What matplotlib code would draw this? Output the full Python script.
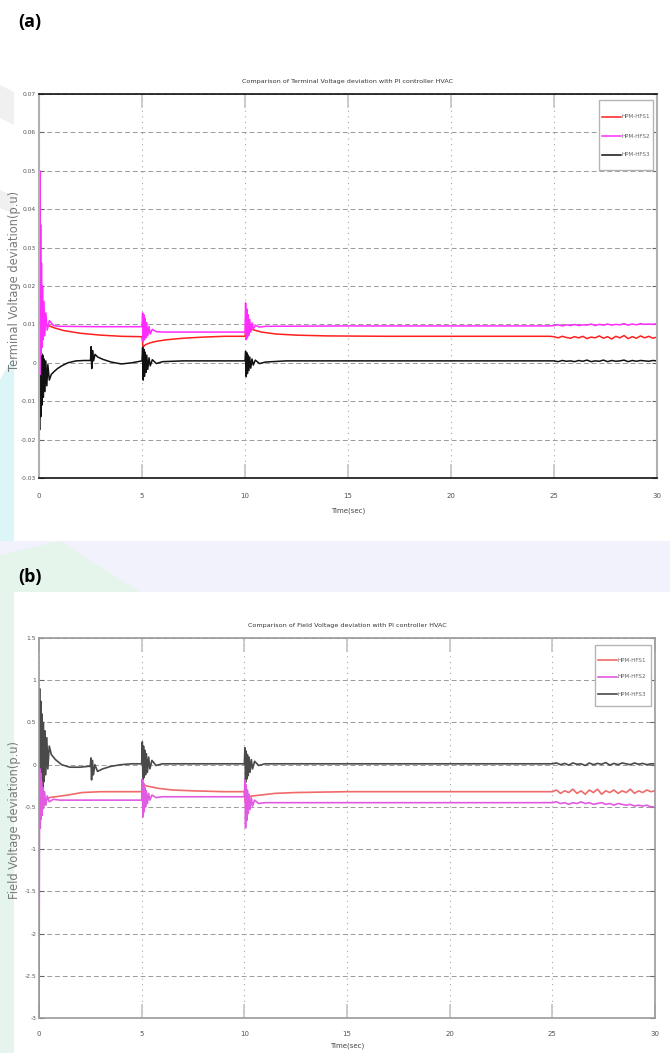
import matplotlib
matplotlib.use("Agg")
import matplotlib.pyplot as plt
from matplotlib.patches import Polygon, Rectangle

# time base shared by the noisy stretch at the end of every run (25 s .. 30 s)
t_tail = [25.0, 25.2, 25.4, 25.6, 25.8, 26.0, 26.2, 26.4, 26.6, 26.8, 27.0, 27.2, 27.4,
          27.6, 27.8, 28.0, 28.2, 28.4, 28.6, 28.8, 29.0, 29.2, 29.4, 29.6, 29.8, 30.0]

# ---- (a) terminal voltage deviation (p.u) ----
t_red_a = [0, 0.05, 0.1, 0.2, 0.3, 0.5, 0.8, 1.2, 2, 3, 4, 5.0, 5.05, 5.1, 5.2, 5.4, 5.7,
           6.2, 7, 8, 9, 10.0, 10.05, 10.1, 10.2, 10.4, 10.8, 11.5, 12.5, 14, 17, 20, 24.8]
v_red_a = [0.02, 0.012, 0.011, 0.0105, 0.0102, 0.0096, 0.009, 0.0084, 0.0077, 0.0072, 0.0069,
           0.0068, 0.004, 0.0044, 0.0048, 0.0052, 0.0056, 0.006, 0.0064, 0.0067, 0.0069,
           0.0069, 0.0096, 0.0094, 0.0091, 0.0086, 0.008, 0.0075, 0.0072, 0.007, 0.0069,
           0.0069, 0.0069]
tail_red_a = [0.0068, 0.0065, 0.0069, 0.0066, 0.0064, 0.0068, 0.0065, 0.0069, 0.0063, 0.0067,
              0.0065, 0.007, 0.0064, 0.0068, 0.0062, 0.0069, 0.0065, 0.0071, 0.0063, 0.0068,
              0.0064, 0.007, 0.0065, 0.0069, 0.0064, 0.0067]

t_mag_a = [0, 0.02, 0.04, 0.06, 0.08, 0.1, 0.12, 0.14, 0.17, 0.2, 0.24, 0.28, 0.33, 0.4, 0.5,
           0.7, 1.0, 3.0,
           5.0, 5.03, 5.06, 5.09, 5.12, 5.15, 5.19, 5.23, 5.28, 5.34, 5.4, 5.5, 5.7, 6.0, 8.0,
           10.0, 10.03, 10.06, 10.09, 10.12, 10.15, 10.19, 10.23, 10.28, 10.34, 10.4, 10.5,
           10.7, 11.0, 15.0, 20.0, 24.8]
v_mag_a = [0.063, 0.008, 0.05, -0.003, 0.036, 0.002, 0.026, 0.004, 0.02, 0.006, 0.016, 0.007,
           0.013, 0.0085, 0.011, 0.0097, 0.0095, 0.0094,
           0.0094, 0.013, 0.0055, 0.0125, 0.006, 0.0115, 0.0065, 0.0105, 0.007, 0.0095, 0.0075,
           0.0087, 0.0081, 0.008, 0.008,
           0.008, 0.0156, 0.006, 0.014, 0.0065, 0.0125, 0.0072, 0.0113, 0.008, 0.0104, 0.0087,
           0.0098, 0.0093, 0.0095, 0.0096, 0.0096, 0.0096]
tail_mag_a = [0.0097, 0.0099, 0.0096, 0.0099, 0.0097, 0.01, 0.0097, 0.0099, 0.0098, 0.0101,
              0.0097, 0.01, 0.0098, 0.0101, 0.0098, 0.01, 0.0099, 0.0102, 0.0098, 0.0101,
              0.0099, 0.0102, 0.01, 0.0101, 0.01, 0.0102]

t_blk_a = [0, 0.03, 0.06, 0.09, 0.12, 0.15, 0.18, 0.21, 0.25, 0.29, 0.33, 0.38, 0.43, 0.5, 0.6,
           0.75, 0.9, 1.1, 1.4, 1.8, 2.2, 2.5, 2.53, 2.56, 2.6, 2.65, 2.72, 2.85, 3.1, 3.5, 4.0, 4.5,
           5.0, 5.03, 5.06, 5.09, 5.12, 5.15, 5.19, 5.23, 5.28, 5.34, 5.4, 5.5, 5.7, 6.0, 7.0,
           10.0, 10.03, 10.06, 10.09, 10.12, 10.15, 10.19, 10.23, 10.28, 10.34, 10.4, 10.5,
           10.7, 11.0, 12.0, 20.0, 24.8]
v_blk_a = [0.002, -0.0175, 0.003, -0.014, 0.0025, -0.011, 0.002, -0.009, 0.001, -0.0075,
           0.0005, -0.006, -0.0005, -0.0045, -0.003, -0.0022, -0.0015, -0.0008, 0.0, 0.0005,
           0.0006, 0.0006, 0.0042, -0.0015, 0.0032, 0.0005, 0.0022, 0.0015, 0.0009, 0.0002,
           -0.0003, 0.0,
           0.0005, 0.004, -0.0045, 0.0035, -0.0035, 0.0028, -0.0025, 0.002, -0.0017, 0.0013,
           -0.0008, 0.0008, -0.0002, 0.0003, 0.0005,
           0.0005, 0.003, -0.0036, 0.0026, -0.0028, 0.002, -0.002, 0.0015, -0.0014, 0.001,
           -0.0006, 0.0007, -0.0002, 0.0002, 0.0005, 0.0005, 0.0005]
tail_blk_a = [0.0005, 0.0003, 0.0006, 0.0004, 0.0005, 0.0003, 0.0006, 0.0004, 0.0007, 0.0003,
              0.0005, 0.0004, 0.0007, 0.0003, 0.0006, 0.0004, 0.0005, 0.0007, 0.0003, 0.0006,
              0.0004, 0.0006, 0.0005, 0.0004, 0.0006, 0.0005]

# ---- (b) field voltage deviation (p.u) ----
t_red_b = [0, 0.05, 0.1, 0.2, 0.35, 0.5, 0.8, 1.4, 2.1, 3.0, 4.0, 5.0, 5.05, 5.1, 5.2, 5.4,
           5.8, 6.5, 7.5, 9.0, 10.0, 10.05, 10.1, 10.2, 10.4, 10.8, 11.5, 12.5, 15.0, 20.0, 24.8]
v_red_b = [-0.2, -0.55, -0.35, -0.5, -0.42, -0.39, -0.38, -0.36, -0.33, -0.32, -0.32, -0.32,
           -0.2, -0.23, -0.25, -0.26, -0.28, -0.3, -0.31, -0.32, -0.32, -0.45, -0.4, -0.38,
           -0.37, -0.36, -0.34, -0.33, -0.32, -0.32, -0.32]
tail_red_b = [-0.32, -0.3, -0.34, -0.31, -0.33, -0.29, -0.34, -0.31, -0.35, -0.3, -0.33, -0.29,
              -0.35, -0.31, -0.33, -0.3, -0.34, -0.31, -0.33, -0.29, -0.34, -0.31, -0.33, -0.3,
              -0.32, -0.31]

t_mag_b = [0, 0.02, 0.04, 0.06, 0.08, 0.1, 0.12, 0.15, 0.18, 0.22, 0.27, 0.33, 0.4, 0.5, 0.7,
           1.0, 3.0,
           5.0, 5.03, 5.06, 5.09, 5.12, 5.15, 5.19, 5.23, 5.28, 5.34, 5.4, 5.5, 5.7, 6.0, 8.0,
           10.0, 10.03, 10.06, 10.09, 10.12, 10.15, 10.19, 10.23, 10.28, 10.34, 10.4, 10.5,
           10.7, 11.0, 15.0, 20.0, 24.8]
v_mag_b = [-3.0, -0.9, -0.05, -0.75, -0.1, -0.65, -0.2, -0.6, -0.27, -0.52, -0.32, -0.48,
           -0.37, -0.44, -0.41, -0.42, -0.42,
           -0.42, -0.17, -0.62, -0.22, -0.56, -0.27, -0.5, -0.31, -0.46, -0.34, -0.42, -0.36,
           -0.39, -0.38, -0.38,
           -0.38, -0.18, -0.75, -0.24, -0.66, -0.3, -0.58, -0.35, -0.53, -0.39, -0.49, -0.42,
           -0.46, -0.45, -0.45, -0.45, -0.45]
tail_mag_b = [-0.45, -0.44, -0.46, -0.45, -0.47, -0.45, -0.46, -0.44, -0.46, -0.45, -0.47,
              -0.46, -0.45, -0.47, -0.46, -0.48, -0.46, -0.47, -0.48, -0.47, -0.49, -0.48,
              -0.49, -0.48, -0.5, -0.5]

t_blk_b = [0, 0.03, 0.06, 0.09, 0.12, 0.15, 0.18, 0.21, 0.25, 0.29, 0.33, 0.38, 0.43, 0.5, 0.6,
           0.8, 1.1, 1.5, 2.0, 2.4, 2.5, 2.53, 2.56, 2.6, 2.65, 2.72, 2.85, 3.1, 3.5, 4.0, 4.5,
           5.0, 5.03, 5.06, 5.09, 5.12, 5.15, 5.19, 5.23, 5.28, 5.34, 5.4, 5.5, 5.7, 6.0, 7.0,
           10.0, 10.03, 10.06, 10.09, 10.12, 10.15, 10.19, 10.23, 10.28, 10.34, 10.4, 10.5,
           10.7, 11.0, 12.0, 20.0, 24.8]
v_blk_b = [0.0, 0.9, -0.5, 0.75, -0.4, 0.6, -0.3, 0.5, -0.2, 0.4, -0.12, 0.32, -0.05, 0.22,
           0.12, 0.06, 0.0, -0.03, -0.03, -0.02, -0.02, 0.08, -0.18, 0.05, -0.12, 0.0, -0.08,
           -0.05, -0.02, 0.0, 0.01,
           0.01, 0.27, -0.18, 0.22, -0.15, 0.17, -0.12, 0.13, -0.09, 0.09, -0.05, 0.05, -0.01,
           0.01, 0.01,
           0.01, 0.2, -0.21, 0.16, -0.17, 0.12, -0.13, 0.09, -0.09, 0.06, -0.05, 0.04, -0.01,
           0.01, 0.01, 0.01, 0.01]
tail_blk_b = [0.01, 0.02, 0.0, 0.015, -0.005, 0.02, 0.005, 0.01, -0.01, 0.02, 0.0, 0.015,
              0.005, 0.025, -0.005, 0.015, 0.0, 0.02, 0.01, 0.0, 0.02, 0.005, 0.015, 0.0, 0.01,
              0.01]

labels = ["HPM-HFS1", "HPM-HFS2", "HPM-HFS3"]
xticks = [0, 5, 10, 15, 20, 25, 30]
yticks_a = [-0.03, -0.02, -0.01, 0, 0.01, 0.02, 0.03, 0.04, 0.05, 0.06, 0.07]
yticks_b = [-3, -2.5, -2, -1.5, -1, -0.5, 0, 0.5, 1, 1.5]

W, H = 670, 1053
fig = plt.figure(figsize=(W / 100, H / 100), dpi=100)
narrow = ["Liberation Sans Narrow", "DejaVu Sans"]


def px(x, y):
    return (x / W, 1 - y / H)


# faint page tint behind the two figures (kept under the axes and their labels)
tints = [
    ([(0, 380), (14, 355), (14, 541), (0, 541)], "#dcf6f8"),
    ([(0, 541), (670, 541), (670, 592), (0, 592)], "#f1f2fb"),
    ([(0, 555), (60, 541), (140, 592), (0, 592)], "#e6f5ec"),
    ([(0, 592), (14, 592), (14, 1053), (0, 1053)], "#e6f4ee"),
    ([(0, 85), (14, 92), (14, 125), (0, 118)], "#f0f0f0"),
    ([(0, 190), (14, 196), (14, 214), (0, 208)], "#f0f0f0"),
]
for pts, col in tints:
    fig.patches.append(Polygon([px(*p) for p in pts], closed=True, transform=fig.transFigure,
                               facecolor=col, edgecolor="none", zorder=-5))

fig.text(*px(18, 22), "(a)", fontsize=13, fontweight="bold", family="Open Sans", va="center")
fig.text(*px(18, 577), "(b)", fontsize=13, fontweight="bold", family="Open Sans", va="center")

# axes boxes in pixels: left, right, top, bottom
box_a = (39, 657, 94, 478)
box_b = (39, 655, 638, 1018)
ax_a = fig.add_axes([box_a[0] / W, 1 - box_a[3] / H, (box_a[1] - box_a[0]) / W,
                     (box_a[3] - box_a[2]) / H])
ax_b = fig.add_axes([box_b[0] / W, 1 - box_b[3] / H, (box_b[1] - box_b[0]) / W,
                     (box_b[3] - box_b[2]) / H])

panels = [
    (ax_a, box_a, [(t_red_a, v_red_a, tail_red_a), (t_mag_a, v_mag_a, tail_mag_a),
                   (t_blk_a, v_blk_a, tail_blk_a)],
     ["#ff1f1f", "#ff2bff", "#111111"], 1.1,
     (-0.03, 0.07), yticks_a,
     "Comparison of Terminal Voltage deviation with PI controller HVAC",
     "Terminal Voltage deviation(p.u)", 0.513,
     (599, 653, 100, 170), [117, 136, 155], 11, 6),
    (ax_b, box_b, [(t_red_b, v_red_b, tail_red_b), (t_mag_b, v_mag_b, tail_mag_b),
                   (t_blk_b, v_blk_b, tail_blk_b)],
     ["#f06a6a", "#e25ae2", "#4a4a4a"], 1.2,
     (-3, 1.5), yticks_b,
     "Comparison of Field Voltage deviation with PI controller HVAC",
     "Field Voltage deviation(p.u)", 0.52,
     (595, 651, 645, 706), [660, 677, 694], 9, 4),
]

for (ax, box, series, colors, lw, ylim, yticks, title, ylabel, ylab_y,
     leg_box, leg_rows, tpad, lpad) in panels:
    zorders = [2.0, 2.4, 2.2]
    for (t, v, tail), col, lab, z in zip(series, colors, labels, zorders):
        ax.plot(list(t) + t_tail, list(v) + tail, color=col, lw=lw, label=lab, zorder=z)

    ax.set_xlim(0, 30)
    ax.set_ylim(*ylim)
    ax.set_xticks(xticks)
    ax.set_yticks(yticks)
    ax.set_xticklabels([f"{x:g}" for x in xticks], family=narrow, fontsize=5, color="#555555")
    ax.set_yticklabels([f"{y:g}" for y in yticks], family=narrow, fontsize=4.3, color="#555555")
    ax.tick_params(axis="x", direction="in", length=10, width=1.2, color="#c4c4c4", pad=tpad,
                   top=True)
    ax.tick_params(axis="y", direction="in", length=3.5, width=0.8, color="#666666", pad=2,
                   right=True)

    ax.grid(axis="y", linestyle=(0, (5, 3)), color="#9a9a9a", lw=0.7)
    ax.grid(axis="x", linestyle=(0, (1, 4)), color="#a8a8a8", lw=0.8)

    ax.set_title(title, family=narrow, fontsize=4.6, color="#333333", pad=8)
    ax.set_xlabel("Time(sec)", family=narrow, fontsize=5, color="#444444", labelpad=lpad)
    ax.set_ylabel(ylabel, fontsize=8.3, color="#7a7a7a")
    ax.yaxis.set_label_coords(-0.0285, ylab_y)

    # legend box drawn by hand so the tall, narrow MATLAB-style frame can be kept
    left, right, top, bottom = box

    def fx(x):
        return (x - left) / (right - left)

    def fy(y):
        return (bottom - y) / (bottom - top)

    lx0, lx1, ly0, ly1 = leg_box
    ax.add_patch(Rectangle((fx(lx0), fy(ly1)), fx(lx1) - fx(lx0), fy(ly0) - fy(ly1),
                           transform=ax.transAxes, facecolor="white", edgecolor="#b5b5b5",
                           lw=1.0, zorder=5))
    for row, col, lab in zip(leg_rows, colors, labels):
        ax.plot([fx(lx0 + 3), fx(lx0 + 22)], [fy(row), fy(row)], color=col, lw=lw,
                transform=ax.transAxes, zorder=6)
        ax.text(fx(lx0 + 23), fy(row), lab, transform=ax.transAxes, family=narrow,
                fontsize=4.1, color="#666666", va="center", ha="left", zorder=6)

for name in ["top", "bottom"]:
    ax_a.spines[name].set_color("#111111")
    ax_a.spines[name].set_linewidth(1.2)
for name in ["left", "right"]:
    ax_a.spines[name].set_color("#b0b0b0")
    ax_a.spines[name].set_linewidth(1.5)
for name in ["top", "bottom", "left", "right"]:
    ax_b.spines[name].set_color("#9a9a9a")
    ax_b.spines[name].set_linewidth(1.2)

fig.savefig("out.png", dpi=100)
